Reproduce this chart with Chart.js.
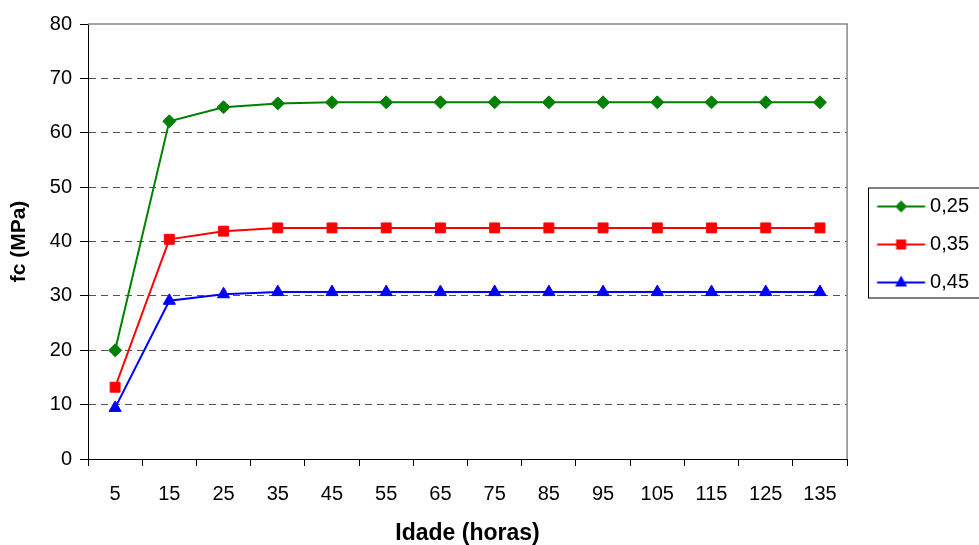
<!DOCTYPE html>
<html lang="pt">
<head>
  <meta charset="UTF-8">
  <title>fc x Idade</title>
  <style>
    body { margin: 0; background: #fff; }
    #wrap { width: 979px; height: 545px; }
  </style>
  <script src="https://cdn.jsdelivr.net/npm/chart.js"></script>
</head>
<body>
  <div id="wrap"><canvas id="grafico" width="979" height="545"></canvas></div>

  <script>
    // dados
    const idades = ['5', '15', '25', '35', '45', '55', '65', '75', '85', '95', '105', '115', '125', '135'];
    const serie025 = [20.0, 62.1, 64.7, 65.4, 65.6, 65.6, 65.6, 65.6, 65.6, 65.6, 65.6, 65.6, 65.6, 65.6];
    const serie035 = [13.2, 40.4, 41.9, 42.5, 42.5, 42.5, 42.5, 42.5, 42.5, 42.5, 42.5, 42.5, 42.5, 42.5];
    const serie045 = [9.4, 29.1, 30.3, 30.7, 30.7, 30.7, 30.7, 30.7, 30.7, 30.7, 30.7, 30.7, 30.7, 30.7];
    const rotulos = ['0,25', '0,35', '0,45'];
    const cores = ['#008000', '#ff0000', '#0000ff'];
    const yTicks = [0, 10, 20, 30, 40, 50, 60, 70, 80];

    const fonte = 'Liberation Sans, Arial, sans-serif';

    // amostra da legenda: linha + marcador
    function amostra(cor, tipo) {
      const c = document.createElement('canvas');
      c.width = 70; c.height = 20;
      const g = c.getContext('2d');
      const cx = 43.5, cy = 10;
      g.strokeStyle = cor; g.fillStyle = cor; g.lineWidth = 2;
      g.beginPath(); g.moveTo(19.5, cy); g.lineTo(67.5, cy); g.stroke();
      g.beginPath();
      if (tipo === 'rectRot') {
        g.moveTo(cx, cy - 6); g.lineTo(cx + 6, cy); g.lineTo(cx, cy + 6); g.lineTo(cx - 6, cy);
      } else if (tipo === 'rect') {
        g.rect(cx - 5, cy - 5, 10, 10);
      } else {
        g.moveTo(cx, cy - 7); g.lineTo(cx + 6, cy + 4); g.lineTo(cx - 6, cy + 4);
      }
      g.closePath(); g.fill();
      return c;
    }

    const estilos = ['rectRot', 'rect', 'triangle'];
    const raios = [6.5, 7, 7];

    const bordaPlugin = {
      id: 'borda',
      afterDraw(chart) {
        const ctx = chart.ctx, a = chart.chartArea;
        ctx.save();
        ctx.strokeStyle = '#888';
        ctx.lineWidth = 1.5;
        ctx.beginPath();
        ctx.moveTo(a.left, a.top);
        ctx.lineTo(a.right, a.top);
        ctx.lineTo(a.right, a.bottom);
        ctx.stroke();
        // moldura da legenda
        const hb = chart.legend.legendHitBoxes;
        if (hb && hb.length) {
          const topo = hb[0].top - 9;
          const base = hb[hb.length - 1].top + hb[hb.length - 1].height + 5;
          ctx.strokeStyle = '#000';
          ctx.lineWidth = 1;
          ctx.strokeRect(868.5, topo + 0.5, 120, base - topo);
        }
        ctx.restore();
      }
    };

    new Chart(document.getElementById('grafico'), {
      type: 'line',
      data: {
        labels: idades,
        datasets: [serie025, serie035, serie045].map((d, i) => ({
          label: rotulos[i],
          data: d,
          borderColor: cores[i],
          backgroundColor: cores[i],
          pointBackgroundColor: cores[i],
          pointBorderColor: cores[i],
          pointStyle: estilos[i],
          pointRadius: raios[i],
          pointBorderWidth: 1,
          borderWidth: 2,
          tension: 0
        }))
      },
      options: {
        responsive: false,
        animation: false,
        layout: { padding: { left: 0, right: 0, top: 24, bottom: 0 } },
        plugins: {
          tooltip: { enabled: false },
          legend: {
            position: 'right',
            fullSize: false,
            title: { display: true, text: ' ', padding: 0, font: { size: 6, lineHeight: 1 } },
            labels: {
              usePointStyle: true,
              pointStyleWidth: 55,
              padding: 18,
              color: '#000',
              font: { family: fonte, size: 20, lineHeight: 1 },
              generateLabels(chart) {
                return chart.data.datasets.map((ds, i) => ({
                  text: ds.label,
                  pointStyle: amostra(cores[i], estilos[i]),
                  fillStyle: cores[i],
                  strokeStyle: cores[i],
                  lineWidth: 0,
                  fontColor: '#000',
                  hidden: false,
                  datasetIndex: i
                }));
              }
            }
          }
        },
        scales: {
          x: {
            offset: true,
            grid: { offset: true, drawOnChartArea: false, drawTicks: true, tickLength: 7, tickColor: '#000' },
            border: { display: true, color: '#000', width: 1 },
            ticks: { color: '#000', padding: 16, maxRotation: 0, autoSkip: false, font: { family: fonte, size: 20 } },
            title: { display: true, text: 'Idade (horas)', color: '#000', padding: { top: 0, bottom: 0 }, font: { family: fonte, size: 23, weight: 'bold', lineHeight: 1 } },
            afterFit(scale) { scale.height = 86; scale.paddingLeft = 0; scale.paddingRight = 0; }
          },
          y: {
            min: 0,
            max: 80,
            afterBuildTicks(scale) { scale.ticks = yTicks.map(v => ({ value: v })); },
            grid: {
              color: c => (c.tick && (c.tick.value === 0 || c.tick.value === 80)) ? 'rgba(0,0,0,0)' : '#555',
              lineWidth: 1,
              tickLength: 8,
              tickColor: '#000'
            },
            border: { display: true, color: '#000', width: 1, dash: [7, 5] },
            ticks: { color: '#000', padding: 8, font: { family: fonte, size: 20 } },
            title: { display: true, text: 'fc (MPa)', color: '#000', padding: { top: 7, bottom: 0 }, font: { family: fonte, size: 21, weight: 'bold' } },
            afterFit(scale) { scale.width = 88; scale.paddingTop = 0; scale.paddingBottom = 0; }
          }
        }
      },
      plugins: [bordaPlugin]
    });
  </script>
</body>
</html>
